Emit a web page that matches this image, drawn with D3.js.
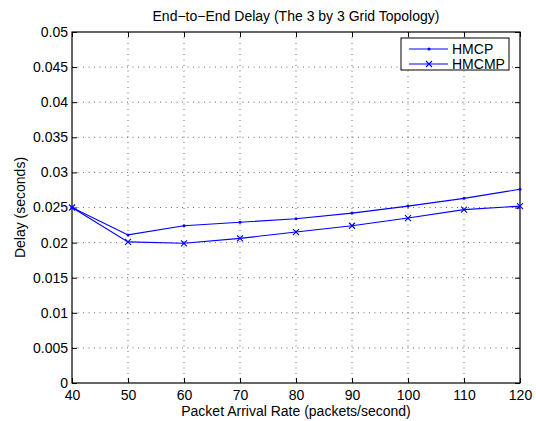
<!DOCTYPE html>
<html>
<head>
<meta charset="utf-8">
<script src="https://cdn.jsdelivr.net/npm/d3@7"></script>
<style>
  body { margin: 0; background: #fff; }
  text { font-family: "Liberation Sans", Arial, sans-serif; fill: #000; }
</style>
</head>
<body>
<div id="chart"></div>
<script>
const rates = [40, 50, 60, 70, 80, 90, 100, 110, 120];
const hmcp = [0.0250, 0.0211, 0.0224, 0.0229, 0.0234, 0.0242, 0.0252, 0.0263, 0.0276];
const hmcmp = [0.0250, 0.0201, 0.0199, 0.0206, 0.0215, 0.0224, 0.0235, 0.0247, 0.0252];
const yTicks = [0, 0.005, 0.01, 0.015, 0.02, 0.025, 0.03, 0.035, 0.04, 0.045, 0.05];
const seriesNames = ["HMCP", "HMCMP"];

const width = 536, height = 421;
const plotL = 72, plotR = 520, plotT = 32, plotB = 383;
const blue = "#0000ff";

const svg = d3.select("#chart").append("svg")
    .attr("width", width)
    .attr("height", height);

const x = d3.scaleLinear().domain([40, 120]).range([plotL, plotR]);
const y = d3.scaleLinear().domain([0, 0.05]).range([plotB, plotT]);

// grid
const grid = svg.append("g")
    .attr("stroke", "#000")
    .attr("stroke-width", 0.6)
    .attr("stroke-dasharray", "1,4.5");
grid.selectAll("line.vx")
    .data(rates.slice(1, -1))
    .join("line")
    .attr("x1", d => x(d)).attr("x2", d => x(d))
    .attr("y1", plotT).attr("y2", plotB);
grid.selectAll("line.hy")
    .data(yTicks.slice(1, -1))
    .join("line")
    .attr("x1", plotL).attr("x2", plotR)
    .attr("y1", d => y(d)).attr("y2", d => y(d));

// axes with inward ticks
const fmt = d => d === 0 ? "0" : String(+d.toFixed(3));
svg.append("g")
    .attr("transform", `translate(0,${plotB})`)
    .call(d3.axisBottom(x).tickValues(rates).tickSizeInner(-5).tickSizeOuter(0).tickPadding(7))
    .call(g => g.select(".domain").remove())
    .call(g => g.selectAll("text").attr("font-size", 14).attr("dy", "0.71em"));
svg.append("g")
    .attr("transform", `translate(${plotL},0)`)
    .call(d3.axisLeft(y).tickValues(yTicks).tickFormat(fmt).tickSizeInner(-5).tickSizeOuter(0).tickPadding(4))
    .call(g => g.select(".domain").remove())
    .call(g => g.selectAll("text").attr("font-size", 14));
svg.append("g")
    .attr("transform", `translate(0,${plotT})`)
    .call(d3.axisTop(x).tickValues(rates).tickSizeInner(-5).tickSizeOuter(0).tickFormat(""))
    .call(g => g.select(".domain").remove());
svg.append("g")
    .attr("transform", `translate(${plotR},0)`)
    .call(d3.axisRight(y).tickValues(yTicks).tickSizeInner(-5).tickSizeOuter(0).tickFormat(""))
    .call(g => g.select(".domain").remove());

svg.append("rect")
    .attr("x", plotL).attr("y", plotT)
    .attr("width", plotR - plotL).attr("height", plotB - plotT)
    .attr("fill", "none").attr("stroke", "#000").attr("stroke-width", 1.2);

// series
const line = d3.line().x((d, i) => x(rates[i])).y(d => y(d));
svg.append("path").datum(hmcp)
    .attr("d", line).attr("fill", "none").attr("stroke", blue).attr("stroke-width", 1.1);
svg.append("path").datum(hmcmp)
    .attr("d", line).attr("fill", "none").attr("stroke", blue).attr("stroke-width", 1.1);

svg.append("g").selectAll("circle")
    .data(hmcp)
    .join("circle")
    .attr("cx", (d, i) => x(rates[i])).attr("cy", d => y(d))
    .attr("r", 1.5).attr("fill", blue);

const cross = (sel, cx, cy, s) => {
    sel.append("path")
        .attr("d", `M${cx - s},${cy - s}L${cx + s},${cy + s}M${cx - s},${cy + s}L${cx + s},${cy - s}`)
        .attr("stroke", blue).attr("stroke-width", 1.1).attr("fill", "none");
};
const crosses = svg.append("g");
hmcmp.forEach((d, i) => cross(crosses, x(rates[i]), y(d), 3));

// legend
const lg = svg.append("g");
lg.append("rect")
    .attr("x", 401).attr("y", 38)
    .attr("width", 108).attr("height", 32)
    .attr("fill", "#fff").attr("stroke", "#000").attr("stroke-width", 1);
const rowsY = [49, 64];
seriesNames.forEach((name, i) => {
    lg.append("line")
        .attr("x1", 409).attr("x2", 448)
        .attr("y1", rowsY[i]).attr("y2", rowsY[i])
        .attr("stroke", blue).attr("stroke-width", 1.1);
    if (i === 0) {
        lg.append("circle").attr("cx", 429).attr("cy", rowsY[i]).attr("r", 1.5).attr("fill", blue);
    } else {
        cross(lg, 429, rowsY[i], 3);
    }
    lg.append("text")
        .attr("x", 452).attr("y", rowsY[i])
        .attr("dy", "0.35em")
        .attr("font-size", 14)
        .text(name);
});

// titles
svg.append("text")
    .attr("x", (plotL + plotR) / 2).attr("y", 21)
    .attr("text-anchor", "middle").attr("font-size", 14)
    .text("End\u2212to\u2212End Delay (The 3 by 3 Grid Topology)");
svg.append("text")
    .attr("x", (plotL + plotR) / 2).attr("y", 416)
    .attr("text-anchor", "middle").attr("font-size", 14)
    .text("Packet Arrival Rate (packets/second)");
svg.append("text")
    .attr("transform", `translate(25,${(plotT + plotB) / 2}) rotate(-90)`)
    .attr("text-anchor", "middle").attr("font-size", 14)
    .text("Delay (seconds)");
</script>
</body>
</html>
